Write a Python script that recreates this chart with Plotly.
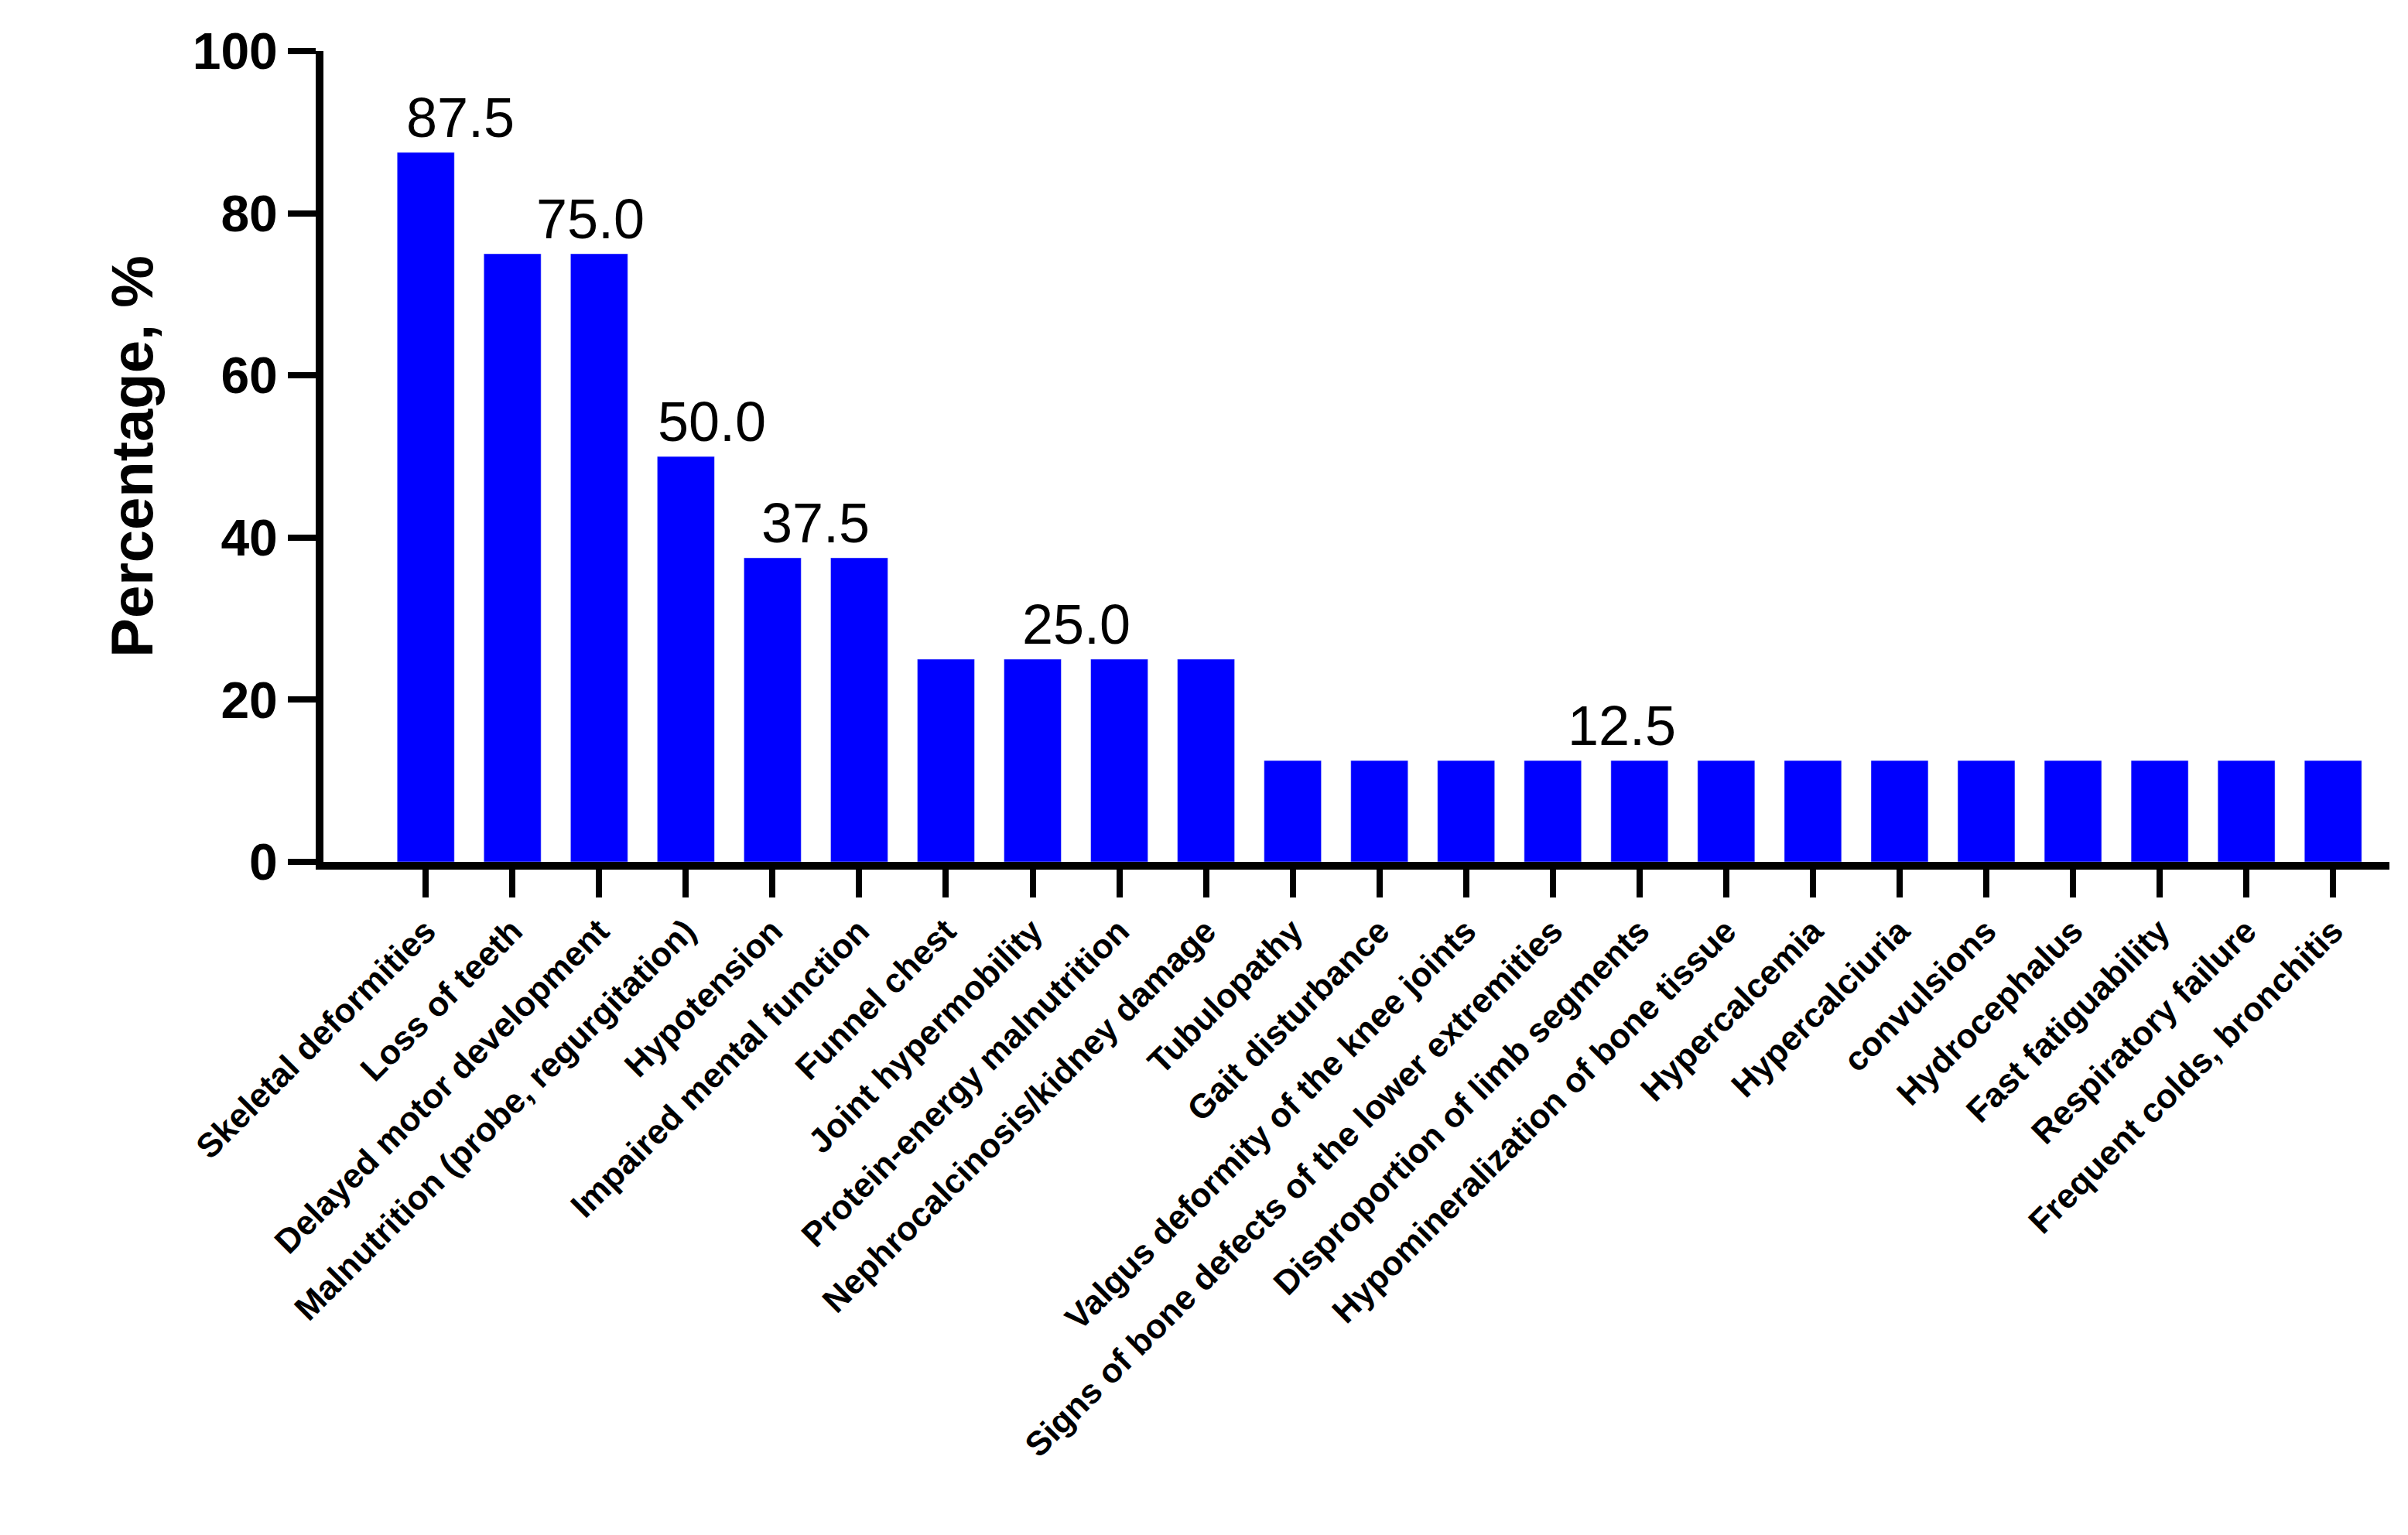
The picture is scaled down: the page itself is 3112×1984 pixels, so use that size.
import plotly.graph_objects as go

categories = ["Skeletal deformities","Loss of teeth","Delayed motor development",
"Malnutrition (probe, regurgitation)","Hypotension","Impaired mental function","Funnel chest",
"Joint hypermobility","Protein-energy malnutrition","Nephrocalcinosis/kidney damage","Tubulopathy",
"Gait disturbance","Valgus deformity of the knee joints","Signs of bone defects of the lower extremities",
"Disproportion of limb segments","Hypomineralization of bone tissue","Hypercalcemia","Hypercalciuria",
"convulsions","Hydrocephalus","Fast fatiguability","Respiratory failure","Frequent colds, bronchitis"]
values = [87.5,75,75,50,37.5,37.5,25,25,25,25]+[12.5]*13
label_values = [87.5,75.0,50.0,37.5,25.0,12.5]
label_x = [0.4,1.9,3.3,4.5,7.5,13.8]
y_ticks = [0,20,40,60,80,100]

x = list(range(len(categories)))
fig = go.Figure(go.Bar(x=x, y=values, marker_color="#0000FF", width=0.66))
for lx, lv in zip(label_x, label_values):
    fig.add_annotation(x=lx, y=lv+0.3, text=f"{lv:.1f}", showarrow=False, yanchor="bottom",
                       font=dict(family="Liberation Sans, Arial", size=72, color="black"))
fig.update_layout(
    width=3112, height=1984, plot_bgcolor="white", paper_bgcolor="white",
    margin=dict(l=410, r=32, t=58, b=878), showlegend=False,
    xaxis=dict(range=[-1.18, 22.65], tickvals=x, ticktext=[f"<b>{c}</b>" for c in categories], tickangle=-45,
               showline=True, linecolor="black", linewidth=10, ticks="outside", ticklen=36,
               tickwidth=8, tickcolor="black", showgrid=False,
               tickfont=dict(family="Liberation Sans, Arial", size=44, color="black")),
    yaxis=dict(range=[0, 100], tickvals=y_ticks, ticktext=[f"<b>{v}</b>" for v in y_ticks],
               showline=True, linecolor="black",
               linewidth=10, ticks="outside", ticklen=36, tickwidth=8, tickcolor="black",
               showgrid=False, zeroline=False,
               tickfont=dict(family="Liberation Sans, Arial", size=66, color="black"),
               title=dict(text="<b>Percentage, %</b>", font=dict(family="Liberation Sans Narrow, Arial", size=76, color="black"), standoff=30)),
)
fig.write_html("out.html")
